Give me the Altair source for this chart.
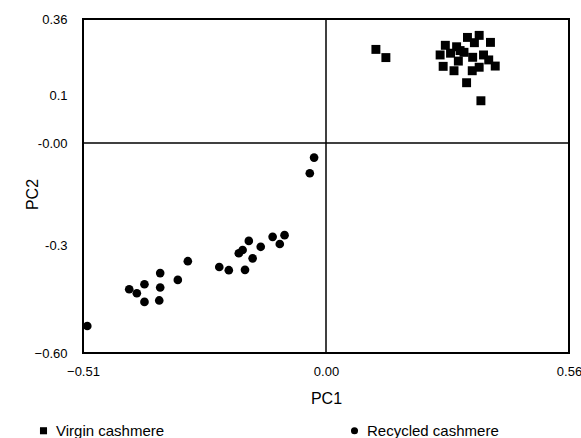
import altair as alt
import pandas as pd

# Virgin cashmere (squares)
virgin_pc1 = [0.115, 0.138, 0.326, 0.353, 0.342, 0.379, 0.275, 0.301, 0.263, 0.287, 0.309, 0.318,
              0.305, 0.338, 0.363, 0.375, 0.390, 0.353, 0.337, 0.295, 0.270, 0.324, 0.357]
virgin_pc2 = [0.256, 0.228, 0.297, 0.304, 0.279, 0.280, 0.270, 0.265, 0.237, 0.243, 0.252, 0.246,
              0.216, 0.229, 0.237, 0.220, 0.199, 0.195, 0.183, 0.183, 0.198, 0.142, 0.088]

# Recycled cashmere (circles)
recycled_pc1 = [-0.501, -0.413, -0.397, -0.381, -0.381, -0.348, -0.348, -0.350, -0.311, -0.290,
                -0.224, -0.204, -0.170, -0.154, -0.183, -0.175, -0.162, -0.137, -0.112, -0.087,
                -0.097, -0.025, -0.034]
recycled_pc2 = [-0.525, -0.423, -0.434, -0.409, -0.458, -0.378, -0.418, -0.454, -0.397, -0.345,
                -0.361, -0.370, -0.369, -0.337, -0.323, -0.314, -0.288, -0.305, -0.276, -0.271,
                -0.297, -0.043, -0.089]

groups = ["Virgin cashmere", "Recycled cashmere"]
x_ticks = [-0.51, 0.0, 0.56]
y_ticks = [-0.60, -0.3, 0.0, 0.1, 0.36]

df = pd.concat([
    pd.DataFrame({"PC1": virgin_pc1, "PC2": virgin_pc2, "group": groups[0]}),
    pd.DataFrame({"PC1": recycled_pc1, "PC2": recycled_pc2, "group": groups[1]}),
])

W, H = 486, 334
xscale = alt.Scale(domain=x_ticks, range=[0, 243, W], zero=False, nice=False)
yscale = alt.Scale(domain=y_ticks, range=[H, 226, 124, 76, 0], zero=False, nice=False)

xaxis = alt.Axis(values=x_ticks, format=".2f", grid=False, ticks=False, tickSize=0, domain=False,
                 labelFlush=False, labelPadding=12, labelFontSize=13, labelColor="#000",
                 labelFont="Liberation Sans", title="PC1", titleFont="Liberation Sans",
                 titleFontSize=16, titleFontWeight="normal", titleColor="#000",
                 titleBaseline="middle", titleY=45, titleX=W / 2)
yaxis = alt.Axis(values=y_ticks, grid=False, ticks=False, tickSize=0, domain=False,
                 labelExpr="datum.value === 0 ? '-0.00' : datum.value === 0.1 ? '0.1' : datum.value === -0.3 ? '-0.3' : format(datum.value, '.2f')",
                 labelFlush=False, labelPadding=16, labelFontSize=13, labelColor="#000",
                 labelFont="Liberation Sans", title="PC2", titleFont="Liberation Sans",
                 titleFontSize=16, titleFontWeight="normal", titleColor="#000",
                 titleBaseline="middle", titleAlign="center", titleAngle=270, titleX=-51, titleY=175)

points = alt.Chart(df).mark_point(filled=True, opacity=1, color="black").encode(
    x=alt.X("PC1:Q", scale=xscale, axis=xaxis),
    y=alt.Y("PC2:Q", scale=yscale, axis=yaxis),
    shape=alt.Shape("group:N", scale=alt.Scale(domain=groups, range=["square", "circle"]),
                    legend=alt.Legend(title=None, orient="none", legendX=-47, legendY=404,
                                      direction="horizontal", columns=2, columnPadding=182,
                                      labelFont="Liberation Sans", labelFontSize=15,
                                      labelColor="#000", symbolSize=50, symbolFillColor="black",
                                      symbolStrokeColor="black", labelOffset=5, padding=0)),
    size=alt.condition("datum.group === 'Virgin cashmere'", alt.value(80), alt.value(75)),
)

vline = alt.Chart(pd.DataFrame({"x": [0.0]})).mark_rule(color="black", strokeWidth=1.5).encode(
    x=alt.X("x:Q", scale=xscale))
hline = alt.Chart(pd.DataFrame({"y": [0.0]})).mark_rule(color="black", strokeWidth=1.5).encode(
    y=alt.Y("y:Q", scale=yscale))

chart = alt.layer(vline, hline, points).properties(
    width=W, height=H,
    autosize=alt.AutoSizeParams(type="none"),
    padding={"left": 83, "top": 19, "right": 12, "bottom": 85},
    background="white",
).configure_view(stroke="black", strokeWidth=2)

chart.save("out.html", embed_options={"renderer": "svg", "actions": False})
